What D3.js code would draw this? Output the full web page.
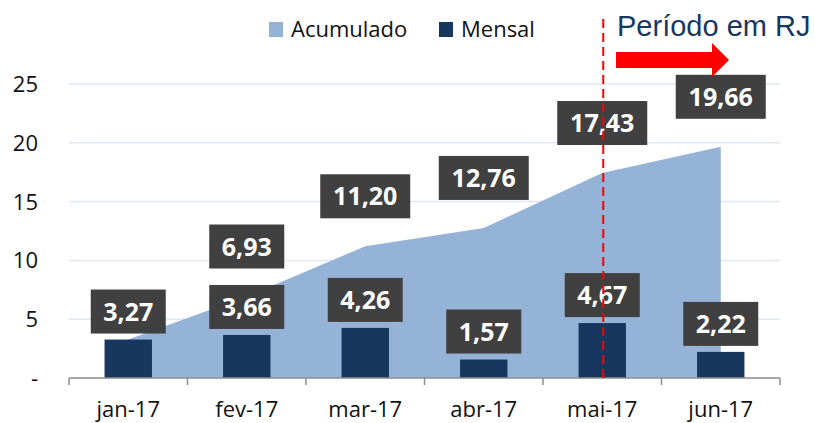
<!DOCTYPE html>
<html>
<head>
<meta charset="utf-8">
<script src="https://cdn.jsdelivr.net/npm/d3@7"></script>
<style>
  body { margin: 0; background: #fff; }
  svg { display: block; font-family: "Open Sans", sans-serif; }
</style>
</head>
<body>
<svg id="chart" width="815" height="423"></svg>
<script>
"use strict";
const months = ["jan-17", "fev-17", "mar-17", "abr-17", "mai-17", "jun-17"];
const mensal = [3.27, 3.66, 4.26, 1.57, 4.67, 2.22];
const acumulado = [3.27, 6.93, 11.20, 12.76, 17.43, 19.66];
const yTicks = [0, 5, 10, 15, 20, 25];
const rjStart = "mai-17";

const svg = d3.select("#chart");
const x = d3.scaleBand().domain(months).range([69, 780]);
const y = d3.scaleLinear().domain([0, 25]).range([378, 84]);
const fmt = v => d3.format(".2f")(v).replace(".", ",");
const cx = m => x(m) + x.bandwidth() / 2;

// gridlines
svg.append("g")
    .selectAll("line")
    .data(yTicks.filter(d => d > 0))
    .join("line")
    .attr("x1", 69).attr("x2", 780)
    .attr("y1", d => y(d)).attr("y2", d => y(d))
    .attr("stroke", "#dfe8f4").attr("stroke-width", 1.5);

// y labels
svg.append("g")
    .selectAll("text")
    .data(yTicks)
    .join("text")
    .attr("x", 38).attr("y", d => y(d) + 8)
    .attr("text-anchor", "end")
    .attr("font-size", 22).attr("fill", "#111")
    .text(d => d === 0 ? "-" : d);

// area (acumulado)
const area = d3.area()
    .x((d, i) => cx(months[i]))
    .y0(y(0))
    .y1(d => y(d));
svg.append("path")
    .datum(acumulado)
    .attr("d", area)
    .attr("fill", "#95b3d7");

// bars (mensal)
const bw = x.bandwidth() * 0.4;
svg.append("g")
    .selectAll("rect")
    .data(mensal)
    .join("rect")
    .attr("x", (d, i) => cx(months[i]) - bw / 2)
    .attr("y", d => y(d))
    .attr("width", bw)
    .attr("height", d => y(0) - y(d))
    .attr("fill", "#17375e");

// x axis
const xAxis = svg.append("g");
xAxis.append("line")
    .attr("x1", 69).attr("x2", 780).attr("y1", 378).attr("y2", 378)
    .attr("stroke", "#8c8c8c").attr("stroke-width", 1.5);
xAxis.selectAll("line.tick")
    .data(months.concat(["end"]))
    .join("line")
    .attr("class", "tick")
    .attr("x1", (d, i) => 69 + i * x.bandwidth())
    .attr("x2", (d, i) => 69 + i * x.bandwidth())
    .attr("y1", 378).attr("y2", 385)
    .attr("stroke", "#8c8c8c").attr("stroke-width", 1.5);
xAxis.selectAll("text")
    .data(months)
    .join("text")
    .attr("x", d => cx(d)).attr("y", 417)
    .attr("text-anchor", "middle")
    .attr("font-size", 22).attr("fill", "#111")
    .text(d => d);

// value labels
function addLabel(v, px, py) {
    const txt = fmt(v);
    const w = txt.length > 4 ? 90 : 75;
    const g = svg.append("g").attr("transform", "translate(" + px + "," + py + ")");
    g.append("rect")
        .attr("x", -w / 2).attr("y", -22)
        .attr("width", w).attr("height", 44)
        .attr("fill", "#404040");
    g.append("text")
        .attr("y", 9)
        .attr("text-anchor", "middle")
        .attr("font-size", 25).attr("font-weight", "bold")
        .attr("fill", "#fff")
        .text(txt);
}
acumulado.forEach((d, i) => {
    if (i > 0) addLabel(d, cx(months[i]), y(d) - 50);
});
mensal.forEach((d, i) => addLabel(d, cx(months[i]), y(d) - 28));

// legend
const legend = [["Acumulado", "#95b3d7", 269], ["Mensal", "#17375e", 439]];
legend.forEach(l => {
    svg.append("rect").attr("x", l[2]).attr("y", 22).attr("width", 14).attr("height", 15).attr("fill", l[1]);
    svg.append("text").attr("x", l[2] + 22).attr("y", 37)
        .attr("font-size", 22).attr("fill", "#111").text(l[0]);
});

// RJ period marker
const rx = cx(rjStart) + 1;
svg.append("line")
    .attr("x1", rx).attr("x2", rx).attr("y1", 19).attr("y2", 378)
    .attr("stroke", "#ff0000").attr("stroke-width", 2)
    .attr("stroke-dasharray", "9,5");
svg.append("text")
    .attr("x", 617).attr("y", 36)
    .attr("font-family", "Liberation Sans, Arial, sans-serif")
    .attr("font-size", 29).attr("fill", "#17375e")
    .text("Período em RJ");
svg.append("path")
    .attr("d", "M616,52 L712,52 L712,43 L729,60 L712,77 L712,68 L616,68 Z")
    .attr("fill", "#ff0000");
</script>
</body>
</html>
